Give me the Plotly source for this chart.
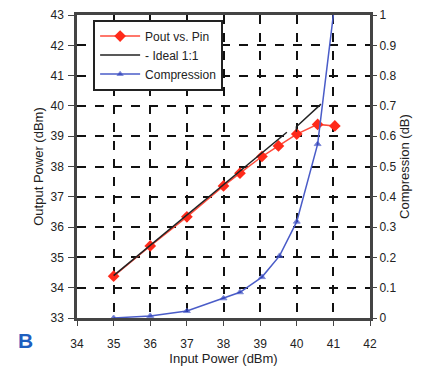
import plotly.graph_objects as go

pin = [35, 36, 37, 38, 38.45, 39.05, 39.5, 40, 40.57, 41.04]
pout = [34.38, 35.38, 36.34, 37.36, 37.78, 38.33, 38.68, 39.07, 39.39, 39.34]
ideal_x = [35, 39.73, None, 39.99, 39.99, 40.66]
ideal_y = [34.4, 39.13, None, 39.15, 39.31, 40.06]
comp_x = [35, 36, 37, 38, 38.45, 39.05, 39.53, 40, 40.57, 41.08]
comp_y = [0.0, 0.007, 0.023, 0.065, 0.085, 0.135, 0.205, 0.318, 0.574, 1.08]
comp_marker = [6, 6, 6, 6, 6, 6, 6, 6, 6, 0]

FONT = "Liberation Sans, Arial, sans-serif"
TXT = "#222222"

fig = go.Figure()
fig.add_trace(go.Scatter(x=pin, y=pout, mode="lines+markers", name="Pout vs. Pin",
                         line=dict(color="#ff4a3a", width=1.5),
                         marker=dict(symbol="diamond", size=9, color="#ff2a1a")))
fig.add_trace(go.Scatter(x=ideal_x, y=ideal_y, mode="lines", name="- Ideal 1:1",
                         line=dict(color="#222222", width=1.5)))
fig.add_trace(go.Scatter(x=comp_x, y=comp_y, mode="lines+markers", name="Compression",
                         yaxis="y2", line=dict(color="#4a5cc8", width=1.5),
                         marker=dict(symbol="triangle-up", size=comp_marker, color="#2a3cb8")))

grid = dict(showgrid=True, gridcolor="#111111", gridwidth=1.5, griddash="dash")
fig.update_layout(
    width=427, height=368,
    margin=dict(l=77, r=57, t=15, b=50),
    paper_bgcolor="white", plot_bgcolor="white",
    font=dict(family=FONT, size=12, color=TXT),
    xaxis=dict(range=[34, 42], tickvals=[34, 35, 36, 37, 38, 39, 40, 41, 42],
               showline=True, linecolor="#444444", linewidth=2.5, mirror=True,
               ticks="outside", ticklen=5, tickcolor="#444444", zeroline=False,
               ticklabelstandoff=8, automargin=False,
               title=dict(text="Input Power (dBm)", font=dict(size=13, color=TXT), standoff=4),
               **grid),
    yaxis=dict(range=[33, 43], dtick=1, showline=True, linecolor="#444444", linewidth=2.5,
               mirror=True, ticks="outside", ticklen=6, tickcolor="#444444", zeroline=False,
               ticklabelstandoff=2, automargin=False,
               title=dict(text="Output Power (dBm)", font=dict(size=13, color=TXT), standoff=4),
               **grid),
    yaxis2=dict(range=[0, 1], overlaying="y", side="right", showgrid=False,
                ticks="outside", ticklen=6, tickcolor="#444444", zeroline=False,
                automargin=False,
                tickvals=[0, 0.1, 0.2, 0.3, 0.4, 0.5, 0.6, 0.7, 0.8, 0.9, 1],
                ticktext=["0", "0.1", "0.2", "0.3", "0.4", "0.5", "0.6", "0.7", "0.8", "0.9", "1"],
                title=dict(text="Compression (dB)", font=dict(size=13, color=TXT), standoff=4)),
    showlegend=True,
    legend=dict(x=0.055, y=0.985, xanchor="left", yanchor="top", bgcolor="white",
                bordercolor="#222222", borderwidth=2, font=dict(size=12, color=TXT),
                tracegroupgap=0, itemwidth=40),
    annotations=[dict(text="<b>B</b>", x=(25 - 77) / 293, y=(318 - 340) / 303,
                      xref="paper", yref="paper", xanchor="center", yanchor="middle",
                      showarrow=False, font=dict(size=21, color="#1f5fbf", family=FONT))],
)
fig.write_html("out.html")
